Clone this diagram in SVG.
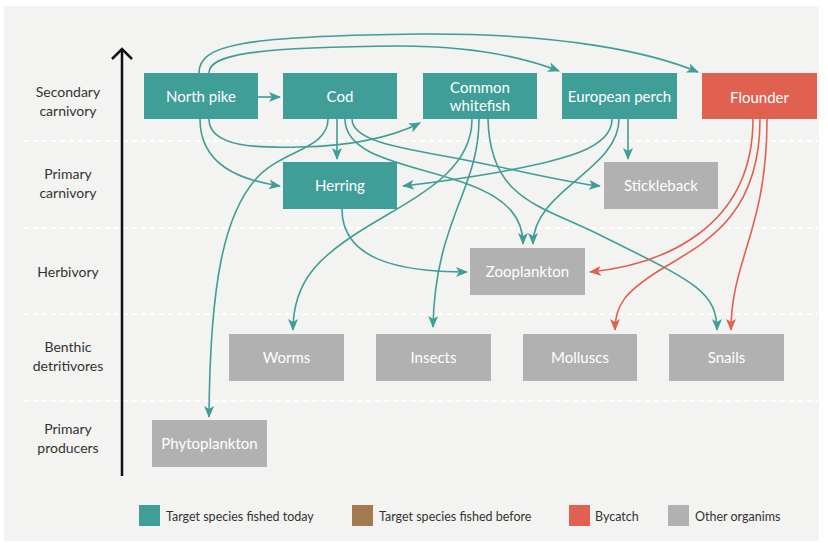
<svg xmlns="http://www.w3.org/2000/svg" width="828" height="543" viewBox="0 0 828 543">
<defs>
<style>
.bg{fill:#f3f3f1}
.grid{stroke:#ffffff;stroke-width:2;stroke-dasharray:5 4}
.lbl{font-family:Lato,"Open Sans",sans-serif;font-size:14px;fill:#333;text-anchor:middle}
.nt{font-family:Lato,"Open Sans",sans-serif;font-size:15px;fill:#ffffff;text-anchor:middle}
.teal{fill:#3f9e97}
.red{fill:#e06150}
.gray{fill:#b1b1b1}
.brown{fill:#a47a50}
.et{fill:none;stroke:#3f9e97;stroke-width:1.6}
.er{fill:none;stroke:#e06150;stroke-width:1.6}
.leg{font-family:Lato,"Open Sans",sans-serif;font-size:12.5px;fill:#333}
</style>
<marker id="at" viewBox="0 0 12 10" refX="11" refY="5" markerWidth="12" markerHeight="10" markerUnits="userSpaceOnUse" orient="auto">
<path d="M0,0 L12,5 L0,10 L3,5 z" fill="#3f9e97"/>
</marker>
<marker id="ar" viewBox="0 0 12 10" refX="11" refY="5" markerWidth="12" markerHeight="10" markerUnits="userSpaceOnUse" orient="auto">
<path d="M0,0 L12,5 L0,10 L3,5 z" fill="#e06150"/>
</marker>
</defs>
<rect class="bg" x="4" y="6" width="815" height="535"/>
<g id="grid">
<line class="grid" x1="24" y1="141" x2="818" y2="141"/>
<line class="grid" x1="24" y1="228" x2="818" y2="228"/>
<line class="grid" x1="24" y1="314" x2="818" y2="314"/>
<line class="grid" x1="24" y1="401" x2="818" y2="401"/>
</g>
<g id="axis">
<line x1="122" y1="49" x2="122" y2="476" stroke="#111" stroke-width="2.5"/>
<polyline points="112,59 122,49 132,59" fill="none" stroke="#111" stroke-width="2.5"/>
</g>
<g id="row-labels">
<text class="lbl" x="68" y="97">Secondary</text>
<text class="lbl" x="68" y="116">carnivory</text>
<text class="lbl" x="68" y="179">Primary</text>
<text class="lbl" x="68" y="198">carnivory</text>
<text class="lbl" x="68" y="277">Herbivory</text>
<text class="lbl" x="68" y="352">Benthic</text>
<text class="lbl" x="68" y="371">detritivores</text>
<text class="lbl" x="68" y="434">Primary</text>
<text class="lbl" x="68" y="453">producers</text>
</g>
<g id="connectors">
<path class="et" marker-end="url(#at)" d="M258,97 L280,97"/>
<path class="et" marker-end="url(#at)" d="M199,73 C199,45 240,36 420,34 C560,33 650,52 698,72"/>
<path class="et" marker-end="url(#at)" d="M209,73 C209,55 250,47 400,46 C470,46 520,56 559,71"/>
<path class="et" marker-end="url(#at)" d="M200,119 C200,165 240,180 280,186"/>
<path class="et" marker-end="url(#at)" d="M209,119 C209,148 260,148 300,147 C350,146 390,138 420,123"/>
<path class="et" marker-end="url(#at)" d="M337,119 L337,159"/>
<path class="et" marker-end="url(#at)" d="M328,119 C328,150 280,150 255,180 C225,215 210,280 209,417"/>
<path class="et" marker-end="url(#at)" d="M345,119 C345,160 420,165 470,185 C510,200 523,220 523,244"/>
<path class="et" marker-end="url(#at)" d="M352,119 C352,145 420,150 480,163 C530,173 570,183 600,186"/>
<path class="et" marker-end="url(#at)" d="M342,209 C342,260 400,272 467,272"/>
<path class="et" marker-end="url(#at)" d="M472,119 C472,170 420,195 370,225 C320,255 293,280 293,330"/>
<path class="et" marker-end="url(#at)" d="M479,119 C479,190 435,220 433,327"/>
<path class="et" marker-end="url(#at)" d="M488,119 C490,200 540,205 600,235 C690,280 717,290 717,330"/>
<path class="et" marker-end="url(#at)" d="M628,119 L628,159"/>
<path class="et" marker-end="url(#at)" d="M612,119 C612,150 560,160 500,172 C460,179 430,183 403,186"/>
<path class="et" marker-end="url(#at)" d="M619,119 C619,170 533,190 533,244"/>
<path class="er" marker-end="url(#ar)" d="M753,119 C753,230 660,265 590,272"/>
<path class="er" marker-end="url(#ar)" d="M760,119 C760,220 700,245 660,270 C625,292 615,305 615,330"/>
<path class="er" marker-end="url(#ar)" d="M767,119 C767,230 731,260 731,330"/>
</g>
<g id="north-pike"><rect class="teal" x="144" y="73" width="114" height="46"/><text class="nt" x="201" y="102">North pike</text></g>
<g id="cod"><rect class="teal" x="283" y="73" width="114" height="46"/><text class="nt" x="340" y="102">Cod</text></g>
<g id="common-whitefish"><rect class="teal" x="423" y="73" width="114" height="46"/><text class="nt" x="480" y="92.5">Common</text><text class="nt" x="480" y="110.5">whitefish</text></g>
<g id="european-perch"><rect class="teal" x="562" y="73" width="115" height="46"/><text class="nt" x="619.5" y="102">European perch</text></g>
<g id="flounder"><rect class="red" x="702" y="73" width="115" height="46"/><text class="nt" x="759.5" y="103">Flounder</text></g>
<g id="herring"><rect class="teal" x="283" y="162" width="114" height="47"/><text class="nt" x="340" y="190.5">Herring</text></g>
<g id="stickleback"><rect class="gray" x="604" y="162" width="114" height="47"/><text class="nt" x="661" y="190.5">Stickleback</text></g>
<g id="zooplankton"><rect class="gray" x="470" y="248" width="115" height="47"/><text class="nt" x="527.5" y="276.5">Zooplankton</text></g>
<g id="worms"><rect class="gray" x="229" y="334" width="115" height="47"/><text class="nt" x="286.5" y="362.5">Worms</text></g>
<g id="insects"><rect class="gray" x="376" y="334" width="115" height="47"/><text class="nt" x="433.5" y="362.5">Insects</text></g>
<g id="molluscs"><rect class="gray" x="523" y="334" width="114" height="47"/><text class="nt" x="580" y="362.5">Molluscs</text></g>
<g id="snails"><rect class="gray" x="669" y="334" width="115" height="47"/><text class="nt" x="726.5" y="362.5">Snails</text></g>
<g id="phytoplankton"><rect class="gray" x="152" y="420" width="115" height="47"/><text class="nt" x="209.5" y="448.5">Phytoplankton</text></g>
<g id="legend">
<rect class="teal" x="139" y="505" width="21" height="21"/><text class="leg" x="166" y="520.5">Target species fished today</text>
<rect class="brown" x="352" y="505" width="21" height="21"/><text class="leg" x="379" y="520.5">Target species fished before</text>
<rect class="red" x="569" y="505" width="21" height="21"/><text class="leg" x="595" y="520.5">Bycatch</text>
<rect class="gray" x="668" y="505" width="21" height="21"/><text class="leg" x="695" y="520.5">Other organims</text>
</g>
</svg>
